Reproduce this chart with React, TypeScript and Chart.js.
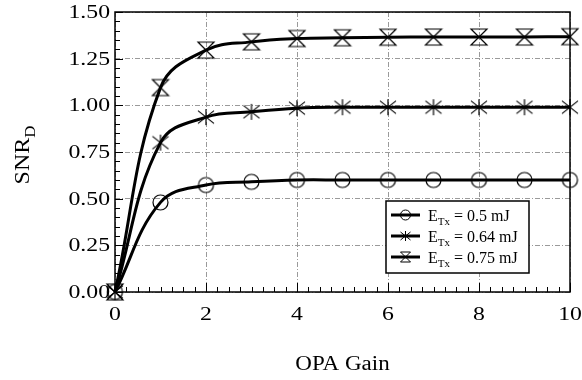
import React, { useEffect, useRef } from "react";
import { Chart, registerables } from "chart.js";
Chart.register(...registerables);

const gains = [0, 1, 2, 3, 4, 5, 6, 7, 8, 9, 10];
const snr05 = [0, 0.48, 0.573, 0.59, 0.6, 0.6, 0.6, 0.6, 0.6, 0.6, 0.6];
const snr064 = [0, 0.8, 0.937, 0.965, 0.985, 0.99, 0.99, 0.99, 0.99, 0.99, 0.99];
const snr075 = [0, 1.095, 1.296, 1.34, 1.358, 1.362, 1.365, 1.366, 1.366, 1.366, 1.368];
const legendValues = ["0.5 mJ", "0.64 mJ", "0.75 mJ"];
const markerKinds = ["circle", "asterisk", "hourglass"];
const xTickValues = [0, 2, 4, 6, 8, 10];
const yTickValues = [0, 0.25, 0.5, 0.75, 1.0, 1.25, 1.5];
const xTitle = "OPA Gain";
const yTitleMain = "SNR";
const yTitleSub = "D";

const SERIF = "'Liberation Serif', 'Times New Roman', serif";

function drawMarker(ctx: CanvasRenderingContext2D, kind: string, x: number, y: number, s: number, lw = 1.2) {
  ctx.save();
  ctx.strokeStyle = "#000";
  ctx.lineWidth = lw;
  ctx.beginPath();
  if (kind === "circle") {
    ctx.arc(x, y, s, 0, Math.PI * 2);
  } else if (kind === "asterisk") {
    ctx.moveTo(x - s, y - s * 0.8);
    ctx.lineTo(x + s, y + s * 0.8);
    ctx.moveTo(x + s, y - s * 0.8);
    ctx.lineTo(x - s, y + s * 0.8);
    ctx.moveTo(x, y - s);
    ctx.lineTo(x, y + s);
  } else {
    ctx.moveTo(x - s, y - s);
    ctx.lineTo(x + s, y - s);
    ctx.lineTo(x - s, y + s);
    ctx.lineTo(x + s, y + s);
    ctx.closePath();
  }
  ctx.stroke();
  ctx.restore();
}

function markerCanvas(kind: string, s: number) {
  const c = document.createElement("canvas");
  const size = Math.ceil(2 * s + 4);
  c.width = size;
  c.height = size;
  const ctx = c.getContext("2d")!;
  drawMarker(ctx, kind, size / 2, size / 2, s);
  return c;
}

function stretchedText(ctx: CanvasRenderingContext2D, text: string, x: number, y: number, align: CanvasTextAlign, sx: number) {
  ctx.save();
  ctx.translate(x, y);
  ctx.scale(sx, 1);
  ctx.textAlign = align;
  ctx.fillText(text, 0, 0);
  ctx.restore();
}

const decorPlugin = {
  id: "decor",
  afterDraw(chart: any) {
    const { ctx, chartArea: a, scales } = chart;
    const xs = scales.x;
    const ys = scales.y;
    ctx.save();
    ctx.fillStyle = "#000";
    ctx.strokeStyle = "#000";
    // frame
    ctx.lineWidth = 1.5;
    ctx.strokeRect(a.left, a.top, a.right - a.left, a.bottom - a.top);
    // y ticks inward
    ctx.lineWidth = 1;
    for (let i = 0; i <= 30; i++) {
      const py = Math.round(ys.getPixelForValue(i * 0.05)) + 0.5;
      const len = i % 5 === 0 ? 8 : 5;
      ctx.beginPath();
      ctx.moveTo(a.left, py);
      ctx.lineTo(a.left + len, py);
      ctx.stroke();
    }
    // x ticks inward
    for (let i = 0; i <= 40; i++) {
      const px = Math.round(xs.getPixelForValue(i * 0.25)) + 0.5;
      const len = i % 8 === 0 ? 9 : 5;
      ctx.beginPath();
      ctx.moveTo(px, a.bottom);
      ctx.lineTo(px, a.bottom - len);
      ctx.stroke();
    }
    // tick labels
    ctx.font = `19px ${SERIF}`;
    ctx.textBaseline = "middle";
    yTickValues.forEach((v) => {
      stretchedText(ctx, v.toFixed(2), a.left - 5, ys.getPixelForValue(v) + 1, "right", 1.25);
    });
    ctx.textBaseline = "alphabetic";
    xTickValues.forEach((v) => {
      stretchedText(ctx, String(v), xs.getPixelForValue(v), a.bottom + 28, "center", 1.25);
    });
    // x title
    ctx.font = `20px ${SERIF}`;
    stretchedText(ctx, xTitle, (a.left + a.right) / 2, 370, "center", 1.15);
    // y title rotated
    ctx.save();
    ctx.translate(29, 155);
    ctx.rotate(-Math.PI / 2);
    ctx.scale(1.2, 1);
    ctx.font = `20px ${SERIF}`;
    const wMain = ctx.measureText(yTitleMain).width;
    ctx.font = `14px ${SERIF}`;
    const wSub = ctx.measureText(yTitleSub).width;
    const start = -(wMain + wSub) / 2;
    ctx.textAlign = "left";
    ctx.font = `20px ${SERIF}`;
    ctx.fillText(yTitleMain, start, 0);
    ctx.font = `14px ${SERIF}`;
    ctx.fillText(yTitleSub, start + wMain, 6);
    ctx.restore();
    // legend
    const bx = 386, by = 201, bw = 143, bh = 72;
    ctx.fillStyle = "#fff";
    ctx.fillRect(bx, by, bw, bh);
    ctx.lineWidth = 1.5;
    ctx.strokeStyle = "#000";
    ctx.strokeRect(bx, by, bw, bh);
    ctx.fillStyle = "#000";
    const rows = [215, 236, 257];
    legendValues.forEach((lbl, i) => {
      const ry = rows[i];
      ctx.lineWidth = 3;
      ctx.beginPath();
      ctx.moveTo(391, ry);
      ctx.lineTo(420, ry);
      ctx.stroke();
      drawMarker(ctx, markerKinds[i], 405.5, ry, 5, 1);
      ctx.textAlign = "left";
      ctx.textBaseline = "alphabetic";
      let tx = 428;
      const base = ry + 6;
      ctx.font = `16px ${SERIF}`;
      ctx.fillText("E", tx, base);
      tx += ctx.measureText("E").width;
      ctx.font = `11px ${SERIF}`;
      ctx.fillText("Tx", tx, base + 4);
      tx += ctx.measureText("Tx").width;
      ctx.font = `16px ${SERIF}`;
      ctx.fillText(" = " + lbl, tx, base);
    });
    ctx.restore();
  },
};

export default function App() {
  const ref = useRef<HTMLCanvasElement | null>(null);
  useEffect(() => {
    if (!ref.current) return;
    const series = [snr05, snr064, snr075];
    const chart = new Chart(ref.current, {
      type: "line",
      data: {
        datasets: series.map((s, i) => ({
          label: "E_Tx = " + legendValues[i],
          data: gains.map((g, j) => ({ x: g, y: s[j] })),
          borderColor: "#000",
          borderWidth: 3,
          backgroundColor: "transparent",
          pointStyle: markerCanvas(markerKinds[i], i === 0 ? 7.5 : 8) as any,
          pointRadius: 8,
          tension: 0.4,
          clip: false as any,
        })),
      },
      options: {
        animation: false,
        responsive: true,
        maintainAspectRatio: false,
        layout: { padding: { left: 115, right: 12, top: 12, bottom: 88 } },
        plugins: { legend: { display: false }, tooltip: { enabled: false } },
        scales: {
          x: {
            type: "linear",
            min: 0,
            max: 10,
            ticks: { display: false, stepSize: 2 },
            grid: { color: "#9a9a9a", lineWidth: 1, drawTicks: false },
            border: { display: false, dash: [5, 2, 1, 2] },
            afterFit: (s: any) => {
              s.height = 0;
            },
          },
          y: {
            min: 0,
            max: 1.5,
            ticks: { display: false, stepSize: 0.25 },
            grid: { color: "#9a9a9a", lineWidth: 1, drawTicks: false },
            border: { display: false, dash: [5, 2, 1, 2] },
            afterFit: (s: any) => {
              s.width = 0;
            },
          },
        },
      },
      plugins: [decorPlugin],
    });
    return () => chart.destroy();
  }, []);
  return (
    <div style={{ position: "absolute", left: 0, top: 0, width: 582, height: 380, background: "#fff" }}>
      <canvas ref={ref} />
    </div>
  );
}
